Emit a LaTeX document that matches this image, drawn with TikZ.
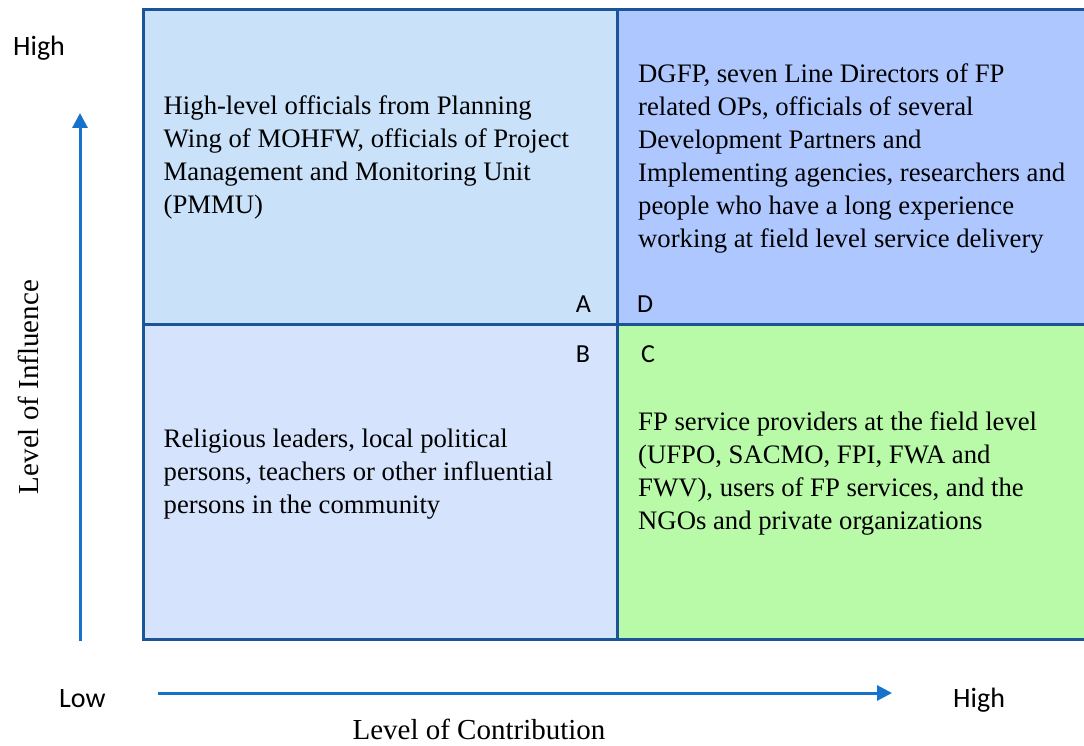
\documentclass[tikz,border=0pt]{standalone}
\usepackage{fontspec}
\setmainfont{Liberation Serif}
\newfontfamily\bodyserif{Liberation Serif}
\newfontfamily\labelsans{Carlito}
\usetikzlibrary{arrows.meta}
\definecolor{gridline}{RGB}{28,84,152}
\definecolor{quadA}{RGB}{201,225,249}
\definecolor{quadB}{RGB}{213,227,252}
\definecolor{quadC}{RGB}{184,250,168}
\definecolor{quadD}{RGB}{174,200,255}
\definecolor{axisblue}{RGB}{22,115,205}
\tikzset{
  celltext/.style={anchor=north west, inner sep=0pt, align=left,
    font=\bodyserif\fontsize{26.7}{33}\selectfont, text=black},
  cornerlabel/.style={anchor=base, inner sep=0pt, font=\labelsans\fontsize{26}{30}\selectfont},
  scalelabel/.style={anchor=base west, inner sep=0pt, font=\labelsans\fontsize{28}{32}\selectfont},
  axistitle/.style={anchor=base, inner sep=0pt, font=\bodyserif\fontsize{29}{32}\selectfont},
  axisarrow/.style={draw=axisblue, line width=3pt,
    -{Triangle[length=15pt, width=15pt]}},
  gridrule/.style={draw=gridline, line width=3pt}
}
\begin{document}
\begin{tikzpicture}[x=1pt, y=-1pt]
\useasboundingbox (0,0) rectangle (1084,746);
\clip (0,0) rectangle (1084,746);

% quadrant fills
\fill[quadA] (143,9.5) rectangle (617,324);
\fill[quadD] (617,9.5) rectangle (1090,324);
\fill[quadB] (143,324) rectangle (617,639);
\fill[quadC] (617,324) rectangle (1090,639);

% frame and dividers
\draw[gridrule] (143,9.5) rectangle (1090,639);
\draw[gridrule] (617,9.5) -- (617,639);
\draw[gridrule] (143,324) -- (1090,324);

% quadrant texts
\node[celltext] (textA) at (163.5,96) {High-level officials from Planning\\
Wing of MOHFW, officials of Project\\
Management and Monitoring Unit\\
(PMMU)};
\node[celltext] (textD) at (638,64) {DGFP, seven Line Directors of FP\\
related OPs, officials of several\\
Development Partners and\\
Implementing agencies, researchers and\\
people who have a long experience\\
working at field level service delivery};
\node[celltext] (textB) at (163.5,429) {Religious leaders, local political\\
persons, teachers or other influential\\
persons in the community};
\node[celltext] (textC) at (638,411) {FP service providers at the field level\\
(UFPO, SACMO, FPI, FWA and\\
FWV), users of FP services, and the\\
NGOs and private organizations};

% quadrant letters
\node[cornerlabel] (labA) at (583.5,312) {A};
\node[cornerlabel] (labD) at (645,312) {D};
\node[cornerlabel] (labB) at (583,362) {B};
\node[cornerlabel] (labC) at (648,362) {C};

% axes
\coordinate (yfrom) at (80,641);
\coordinate (yto) at (80,113);
\coordinate (xfrom) at (158,693);
\coordinate (xto) at (892,693);
\draw[axisarrow] (yfrom) -- (yto);
\draw[axisarrow] (xfrom) -- (xto);

\node[scalelabel] (yhigh) at (13,56) {High};
\node[scalelabel] (xlow) at (59,707) {Low};
\node[scalelabel] (xhigh) at (953,707) {High};

\node[axistitle] (xtitle) at (479,739) {Level of Contribution};
\node[axistitle, rotate=90] (ytitle) at (38,387) {Level of Influence};
\end{tikzpicture}
\end{document}
